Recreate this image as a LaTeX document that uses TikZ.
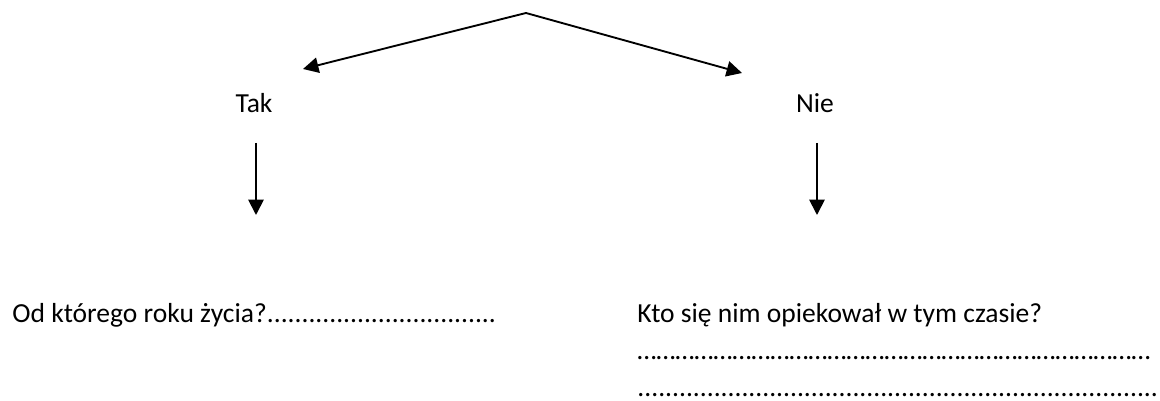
\documentclass[tikz,border=0pt]{standalone}
\usepackage{fontspec}
\setmainfont{Carlito}
\usetikzlibrary{arrows.meta}

\newcommand{\kropki}[2]{\hbox to #1{\leaders\hbox{#2}\hfill}}

\tikzset{
  strzalka/.style={line width=0.85pt,-{Triangle[length=7pt,width=7pt]}},
  napis/.style={inner sep=0pt,anchor=base west,font=\fontsize{12.5}{15}\selectfont}
}

\begin{document}
\begin{tikzpicture}[x=0.454pt,y=-0.454pt]
\useasboundingbox (0,0) rectangle (1160,401);
%\draw[] (0,0) grid[step=100] (1160,401);
\coordinate (gora) at (526,13);
\coordinate (lewo) at (303,69);
\coordinate (prawo) at (742,73);
\node[napis,anchor=base] (tak) at (254,113) {Tak};
\node[napis,anchor=base] (nie) at (815,113) {Nie};
\coordinate (tak1) at (256,143);
\coordinate (tak2) at (256,215);
\coordinate (nie1) at (817,143);
\coordinate (nie2) at (817,215);
\draw[strzalka] (gora) -- (lewo);
\draw[strzalka] (gora) -- (prawo);
\draw[strzalka] (tak1) -- (tak2);
\draw[strzalka] (nie1) -- (nie2);
\node[napis] (rok) at (12,323) {Od którego roku życia?\kropki{107pt}{.}};
\node[napis] (kto) at (637,323) {Kto się nim opiekował w tym czasie?};
\node[napis] (linia1) at (637,360) {\kropki{239pt}{…}};
\node[napis] (linia2) at (637,397) {\kropki{237pt}{.}};
\end{tikzpicture}
\end{document}
